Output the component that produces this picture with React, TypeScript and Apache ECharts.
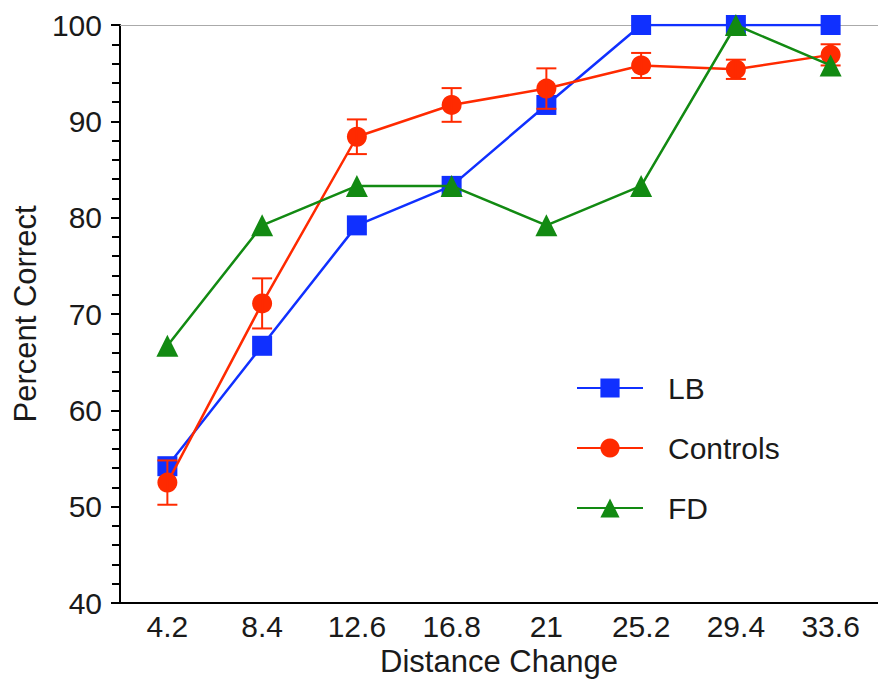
import React, { useEffect, useRef } from "react";
import * as echarts from "echarts";

const categories = ["4.2", "8.4", "12.6", "16.8", "21", "25.2", "29.4", "33.6"];
const lbValues = [54.2, 66.7, 79.2, 83.3, 91.7, 100, 100, 100];
const controlsValues = [52.5, 71.1, 88.4, 91.7, 93.4, 95.8, 95.4, 96.9];
const controlsErr = [2.3, 2.6, 1.8, 1.75, 2.1, 1.3, 1.0, 1.1];
const fdValues = [66.7, 79.2, 83.3, 83.3, 79.2, 83.3, 100, 95.8];

const BLUE = "#1030ff";
const RED = "#ff2a00";
const GREEN = "#128a12";
const FONT = "Liberation Sans, Arial, sans-serif";
const TEXT = "#1a1a1a";

export default function App() {
  const ref = useRef<HTMLDivElement>(null);
  useEffect(() => {
    if (!ref.current) return;
    const chart = echarts.init(ref.current, null, { renderer: "svg" });
    const errData = categories.map((c, i) => [i, controlsValues[i] - controlsErr[i], controlsValues[i] + controlsErr[i]]);
    chart.setOption({
      animation: false,
      backgroundColor: "#ffffff",
      textStyle: { fontFamily: FONT },
      grid: { left: 120, top: 25, right: -8, bottom: 82, containLabel: false },
      legend: {
        left: 571,
        top: 368,
        orient: "vertical",
        itemWidth: 66,
        itemHeight: 24,
        itemGap: 30,
        data: ["LB", "Controls", "FD"],
        textStyle: { fontSize: 30, color: TEXT, fontFamily: FONT, padding: [0, 0, 0, 20], lineHeight: 30 },
      },
      xAxis: {
        type: "category",
        data: categories,
        boundaryGap: true,
        name: "Distance Change",
        nameLocation: "middle",
        nameGap: 43,
        nameTextStyle: { fontSize: 31, color: TEXT, fontFamily: FONT },
        axisLine: { show: true, lineStyle: { color: "#000", width: 2 } },
        axisTick: { show: false },
        axisLabel: { fontSize: 30, color: TEXT, fontFamily: FONT, margin: 8 },
        splitLine: { show: false },
      },
      yAxis: {
        type: "value",
        min: 40,
        max: 100,
        interval: 10,
        name: "Percent Correct",
        nameLocation: "middle",
        nameGap: 76,
        nameTextStyle: { fontSize: 31, color: TEXT, fontFamily: FONT },
        axisLine: { show: true, lineStyle: { color: "#000", width: 2 } },
        axisTick: { show: true, length: 9, lineStyle: { color: "#000", width: 2 } },
        minorTick: { show: true, splitNumber: 5, length: 8, lineStyle: { color: "#000", width: 2 } },
        axisLabel: { fontSize: 30, color: TEXT, fontFamily: FONT, margin: 18 },
        splitLine: { show: false },
        minorSplitLine: { show: false },
      },
      series: [
        {
          name: "LB",
          type: "line",
          data: lbValues,
          symbol: "rect",
          symbolSize: 20,
          itemStyle: { color: BLUE },
          lineStyle: { color: BLUE, width: 2.5 },
          z: 2,
          markLine: {
            silent: true,
            symbol: "none",
            label: { show: false },
            lineStyle: { color: "#aaaaaa", width: 1, type: "solid" },
            data: [{ yAxis: 100 }],
            z: 1,
          },
        },
        {
          name: "Controls",
          type: "line",
          data: controlsValues,
          symbol: "circle",
          symbolSize: 20,
          itemStyle: { color: RED },
          lineStyle: { color: RED, width: 2.5 },
          z: 3,
        },
        {
          name: "ControlsErr",
          type: "custom",
          data: errData,
          z: 4,
          renderItem: (params: any, api: any) => {
            const x = api.value(0);
            const lo = api.coord([x, api.value(1)]);
            const hi = api.coord([x, api.value(2)]);
            const hw = 10;
            const style = { stroke: RED, lineWidth: 2, fill: "none" };
            return {
              type: "group",
              children: [
                { type: "line", shape: { x1: lo[0], y1: lo[1], x2: hi[0], y2: hi[1] }, style },
                { type: "line", shape: { x1: lo[0] - hw, y1: lo[1], x2: lo[0] + hw, y2: lo[1] }, style },
                { type: "line", shape: { x1: hi[0] - hw, y1: hi[1], x2: hi[0] + hw, y2: hi[1] }, style },
              ],
            };
          },
        },
        {
          name: "FD",
          type: "line",
          data: fdValues,
          symbol: "triangle",
          symbolSize: 22,
          itemStyle: { color: GREEN },
          lineStyle: { color: GREEN, width: 2.5 },
          z: 5,
        },
      ],
    });
    return () => chart.dispose();
  }, []);
  return <div ref={ref} style={{ position: "absolute", left: 0, top: 0, width: 878, height: 685 }} />;
}
